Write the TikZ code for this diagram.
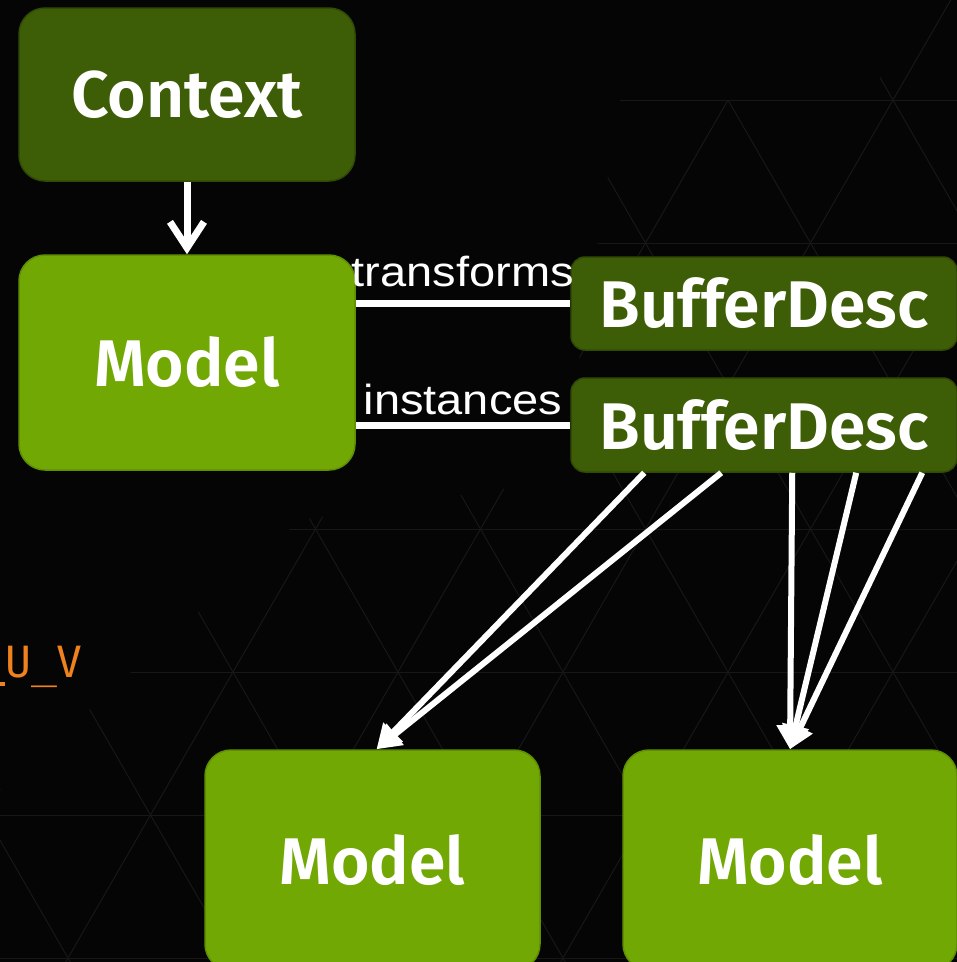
\documentclass[tikz,border=0pt]{standalone}
\usepackage{fontspec}
\setmainfont{Fira Sans}[BoldFont={Fira Sans SemiBold}]
\newfontfamily\labelfont{Liberation Sans}
\newfontfamily\codefont{DejaVu Sans Mono}
\usetikzlibrary{arrows.meta,calc}
\definecolor{bg}{HTML}{050505}
\definecolor{gridline}{HTML}{171717}
\definecolor{lightgreen}{HTML}{71A804}
\definecolor{darkgreen}{HTML}{3D5E06}
\definecolor{accent}{HTML}{F0821E}
\tikzset{
  box/.style={rounded corners=26pt, inner sep=0pt, text=white,
    font=\bfseries\fontsize{66}{70}\selectfont},
  lightbox/.style={box, fill=lightgreen, draw=lightgreen!85!black, line width=1.5pt},
  darkbox/.style={box, fill=darkgreen, draw=darkgreen!80!black, line width=1.5pt},
  link/.style={draw=white, line width=7pt},
  flow/.style={draw=white, line width=6pt, -{Triangle[length=24pt,width=26pt]}},
  downarrow/.style={draw=white, line width=7pt, -{Straight Barb[length=26pt,width=34pt]}},
  lbl/.style={text=white, font=\labelfont\fontsize{42}{46}\selectfont, inner sep=0pt},
  grid/.style={draw=gridline, line width=1pt}
}
\begin{document}
\begin{tikzpicture}[x=1pt,y=-1pt]
\useasboundingbox (0,0) rectangle (957,962);
\clip (0,0) rectangle (957,962);
\fill[bg] (0,0) rectangle (957,962);
% faint triangle background
\begin{scope}
\clip (880,0) -- (957,0) -- (957,962) -- (0,962) -- (0,790) -- (300,520) -- (560,480) -- (620,100) -- (880,100) -- cycle;
\foreach \k in {-1,...,6} \draw[grid] (-10,100+143*\k) -- (970,100+143*\k);
\foreach \j in {-8,...,2} \draw[grid] (728+165*\j-82.5,-43) -- ++(660,1144);
\foreach \j in {-5,...,9} \draw[grid] (728+165*\j+82.5,-43) -- ++(-660,1144);
\end{scope}
% nodes
\node[darkbox, minimum width=336pt, minimum height=173pt] (ctx) at (187,94.5) {Context};
\node[lightbox, minimum width=336pt, minimum height=215pt] (m0) at (187,362.5) {Model};
\node[darkbox, rounded corners=14pt, minimum width=386pt, minimum height=93pt] (bd1) at (764,303.5) {BufferDesc};
\node[darkbox, rounded corners=14pt, minimum width=386pt, minimum height=94pt] (bd2) at (764,425) {BufferDesc};
\node[lightbox, minimum width=335pt, minimum height=220pt] (m1) at (372.5,860) {Model};
\node[lightbox, minimum width=334pt, minimum height=220pt] (m2) at (790,860) {Model};
\node[anchor=base west, inner sep=0pt, text=accent, font=\codefont\fontsize{43}{46}\selectfont] (uv) at (5,677) {U\_V};
\fill[accent] (0,682) rectangle (5,686);
% connectors
\draw[downarrow] (ctx.south) -- (m0.north);
\draw[link] (m0.east |- bd1.west) -- (bd1.west)
  node[lbl, midway, anchor=base, yshift=17pt] {\scalebox{1.12}[1]{transforms}};
\draw[link] (m0.east |- bd2.west) -- (bd2.west)
  node[lbl, midway, anchor=base, yshift=11pt] {\scalebox{1.12}[1]{instances}};
\draw[flow] ([xshift=74pt]bd2.south west) -- ([xshift=4pt]m1.north);
\draw[flow] ([xshift=151pt]bd2.south west) -- ([xshift=4pt]m1.north);
\draw[flow] ([xshift=222pt]bd2.south west) -- (m2.north);
\draw[flow] ([xshift=286pt]bd2.south west) -- (m2.north);
\draw[flow] ([xshift=352pt]bd2.south west) -- (m2.north);
\end{tikzpicture}
\end{document}
